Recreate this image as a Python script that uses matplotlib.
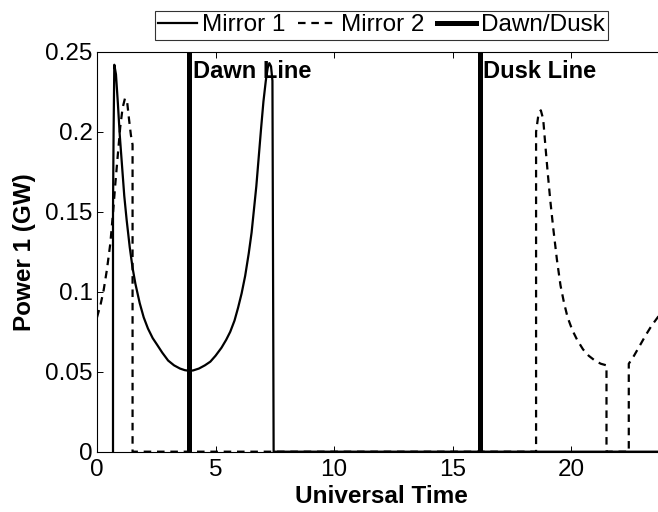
import numpy as np
import matplotlib.pyplot as plt

plt.rcParams['font.family'] = ['Liberation Sans', 'DejaVu Sans']

# Power delivered by each mirror over one day (GW)
mirror1_t = [0.675, 0.675, 0.70, 0.73, 0.80, 0.88, 0.96, 1.05, 1.15, 1.25, 1.38,
             1.50, 1.62, 1.80, 1.97, 2.15, 2.35, 2.53, 2.75, 3.00, 3.25, 3.50,
             3.70, 3.87, 4.05, 4.30, 4.55, 4.78, 5.00, 5.25, 5.45, 5.62, 5.80,
             5.95, 6.10, 6.25, 6.40, 6.52, 6.61, 6.72, 6.82, 6.92, 7.02, 7.12,
             7.20, 7.27, 7.34, 7.40, 7.45, 24.0]
mirror1_p = [0.0, 0.151, 0.200, 0.242, 0.236, 0.218, 0.198, 0.180, 0.160, 0.145,
             0.128, 0.115, 0.105, 0.093, 0.084, 0.077, 0.071, 0.067, 0.062,
             0.057, 0.054, 0.052, 0.051, 0.0506, 0.0508, 0.052, 0.054, 0.0563,
             0.060, 0.065, 0.070, 0.075, 0.082, 0.090, 0.099, 0.110, 0.124,
             0.137, 0.150, 0.166, 0.184, 0.202, 0.219, 0.232, 0.240, 0.243,
             0.241, 0.232, 0.0, 0.0]

mirror2_t = [0.0, 0.15, 0.28, 0.42, 0.56, 0.68, 0.77, 0.88, 0.98, 1.08, 1.18,
             1.27, 1.35, 1.43, 1.50, 1.50,
             18.52, 18.52, 18.62, 18.72, 18.82, 18.92, 19.02, 19.12, 19.25,
             19.40, 19.55, 19.70, 19.85, 20.05, 20.25, 20.50, 20.74, 21.00,
             21.25, 21.49, 21.49,
             22.43, 22.43, 22.65, 22.92, 23.15, 23.40, 23.70, 24.0]
mirror2_p = [0.084, 0.092, 0.101, 0.114, 0.130, 0.150, 0.167, 0.186, 0.203,
             0.215, 0.221, 0.219, 0.208, 0.198, 0.192, 0.0,
             0.0, 0.200, 0.211, 0.2135, 0.208, 0.190, 0.173, 0.157, 0.139,
             0.120, 0.104, 0.093, 0.084, 0.076, 0.070, 0.064, 0.060, 0.057,
             0.055, 0.054, 0.0,
             0.0, 0.055, 0.060, 0.067, 0.073, 0.079, 0.085, 0.092]

dawn_ut = 3.87
dusk_ut = 16.17

fs = 17.5

fig = plt.figure(figsize=(6.58, 5.12), dpi=100)
ax = fig.add_axes([97 / 658, 0.1178, 569 / 658, 0.7807])

ax.plot(mirror1_t, mirror1_p, color='black', lw=1.6, label='Mirror 1')
ax.plot(mirror2_t, mirror2_p, color='black', lw=1.6, ls='--', dashes=(3.4, 2.6),
        label='Mirror 2')
ax.plot([dawn_ut, dawn_ut], [0, 0.25], color='black', lw=3.6, label='Dawn/Dusk')
ax.plot([dusk_ut, dusk_ut], [0, 0.25], color='black', lw=3.6)

ax.text(dawn_ut + 0.19, 0.2335, 'Dawn Line', fontsize=17, fontweight='bold',
        va='baseline', ha='left')
ax.text(dusk_ut + 0.12, 0.2335, 'Dusk Line', fontsize=17, fontweight='bold',
        va='baseline', ha='left')

ax.set_xlim(0, 24)
ax.set_ylim(0, 0.25)
ax.set_xticks([0, 5, 10, 15, 20])
ax.set_yticks([0, 0.05, 0.1, 0.15, 0.2, 0.25])
ax.set_yticklabels(['0', '0.05', '0.1', '0.15', '0.2', '0.25'])
ax.tick_params(direction='in', length=4, width=0.7, labelsize=fs,
               top=True, right=True)
ax.tick_params(axis='x', pad=5)
ax.tick_params(axis='y', pad=3)
for s in ax.spines.values():
    s.set_linewidth(0.8)

ax.set_xlabel('Universal Time', fontsize=fs, fontweight='bold', labelpad=3)
ax.set_ylabel('Power 1 (GW)', fontsize=fs, fontweight='bold', labelpad=7)

leg = ax.legend(loc='lower center', bbox_to_anchor=(0.5, 1.03), ncol=3,
                fontsize=fs, frameon=True, fancybox=False, edgecolor='black',
                handlelength=1.6, handletextpad=0.2, columnspacing=0.5,
                borderpad=0.15, borderaxespad=0)
leg.get_frame().set_linewidth(0.8)

fig.savefig('out.png', dpi=100)
